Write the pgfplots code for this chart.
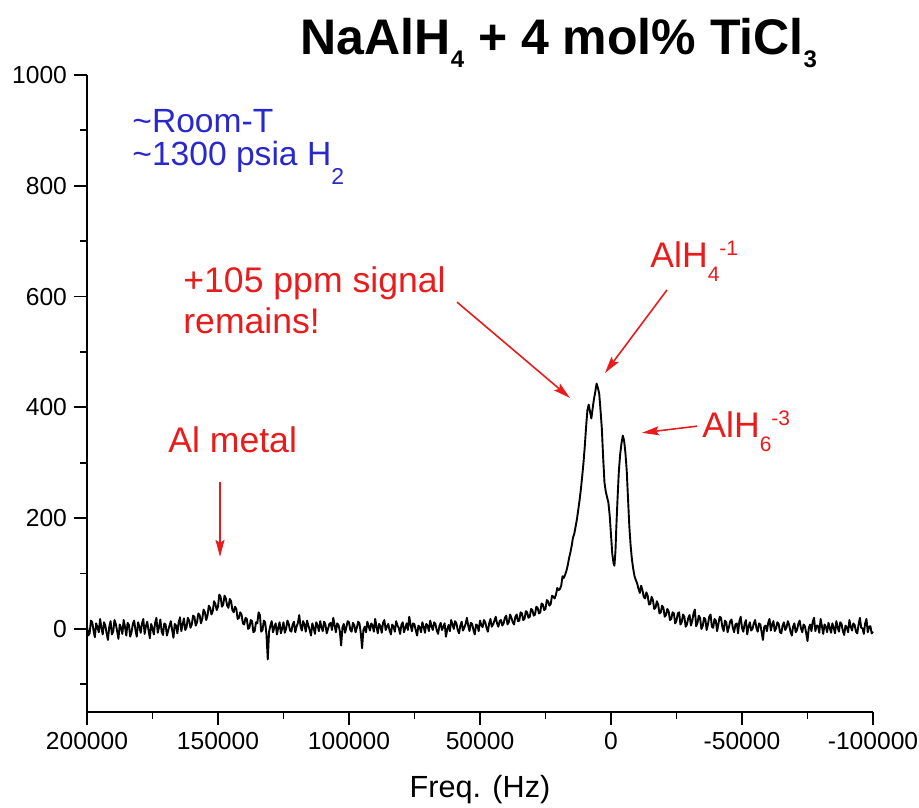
\documentclass[border=0pt]{standalone}
\usepackage{fontspec}
\setmainfont{Liberation Sans}
\usepackage{pgfplots}
\pgfplotsset{compat=1.18}
\usetikzlibrary{arrows.meta}
\definecolor{annred}{RGB}{232,28,28}
\definecolor{annblue}{RGB}{40,40,205}
\newcommand{\lo}[3]{\raisebox{-#2}{\fontsize{#1}{#1}\selectfont #3}}
\newcommand{\hi}[3]{\raisebox{#2}{\fontsize{#1}{#1}\selectfont #3}}
\begin{document}
\begin{tikzpicture}
\path[use as bounding box] (-43.5pt,-47.5pt) rectangle (416pt,356pt);
\begin{axis}[
  at={(0,0)}, anchor=south west, scale only axis,
  width=393pt, height=318.5pt,
  xmin=-100000, xmax=200000, x dir=reverse,
  ymin=-150, ymax=1000,
  axis x line*=bottom, axis y line*=left,
  axis line style={line width=1pt, black},
  xtick={-100000,-50000,0,50000,100000,150000,200000},
  minor xtick={-75000,-25000,25000,75000,125000,175000},
  ytick={0,200,400,600,800,1000},
  minor ytick={-100,100,300,500,700,900},
  tick align=outside,
  major tick length=6.5pt, minor tick length=3.5pt,
  every tick/.style={black, line width=0.9pt},
  scaled x ticks=false, scaled y ticks=false,
  /pgf/number format/fixed,
  /pgf/number format/precision=0,
  /pgf/number format/assume math mode=true,
  /pgf/number format/set thousands separator={},
  ticklabel style={font=\fontsize{12.3}{14}\selectfont},
  xlabel={Freq. (Hz)},
  xlabel style={font=\fontsize{15.3}{18}\selectfont, at={(axis description cs:0.5,0)}, anchor=center, yshift=-39pt},
  clip=false,
]
\addplot[black, line width=0.95pt, line join=round] coordinates {
(200000,5) (199500,-12) (199000,-8) (198500,15) (198000,12) (197500,-3) (197000,-15) (196500,10) (196000,3) (195500,-6)
(195000,18) (194500,2) (194000,-10) (193500,12) (193000,6) (192500,-8) (192000,-20) (191500,4) (191000,14) (190500,-10)
(190000,-5) (189500,16) (189000,9) (188500,-4) (188000,-18) (187500,8) (187000,2) (186500,-9) (186000,16) (185500,4)
(185000,-12) (184500,11) (184000,7) (183500,-14) (183000,-6) (182500,9) (182000,15) (181500,-2) (181000,-14) (180500,12)
(180000,4) (179500,-7) (179000,10) (178500,18) (178000,-9) (177500,5) (177000,13) (176500,-3) (176000,-17) (175500,9)
(175000,1) (174500,-10) (174000,11) (173500,20) (173000,-7) (172500,3) (172000,17) (171500,-5) (171000,-11) (170500,10)
(170000,8) (169500,-12) (169000,-3) (168500,6) (168000,14) (167500,-2) (167000,-16) (166500,9) (166000,6) (165500,-8)
(165000,12) (164500,21) (164000,-4) (163500,8) (163000,19) (162500,-2) (162000,3) (161500,20) (161000,15) (160500,2)
(160000,8) (159500,24) (159000,22) (158500,6) (158000,12) (157500,28) (157000,25) (156500,10) (156000,18) (155500,35)
(155000,30) (154500,16) (154000,24) (153500,42) (153000,38) (152500,26) (152000,32) (151500,50) (151000,45) (150500,34)
(150000,40) (149500,62) (149000,58) (148500,40) (148000,44) (147500,60) (147000,55) (146500,42) (146000,38) (145500,54)
(145000,50) (144500,34) (144000,30) (143500,40) (143000,36) (142500,18) (142000,20) (141500,30) (141000,26) (140500,10)
(140000,8) (139500,20) (139000,18) (138500,0) (138000,2) (137500,16) (137000,14) (136500,-6) (136000,-4) (135500,12)
(135000,10) (134500,30) (134000,25) (133500,-5) (133000,-2) (132500,15) (132000,12) (131500,-10) (131000,-55) (130500,-5)
(130000,6) (129500,14) (129000,-6) (128500,3) (128000,10) (127500,-10) (127000,2) (126500,12) (126000,-8) (125500,1)
(125000,12) (124500,-7) (124000,0) (123500,15) (123000,9) (122500,-3) (122000,-5) (121500,8) (121000,13) (120500,-6)
(120000,4) (119500,11) (119000,25) (118500,5) (118000,-3) (117500,14) (117000,8) (116500,-5) (116000,15) (115500,6)
(115000,-2) (114500,-12) (114000,10) (113500,2) (113000,-9) (112500,12) (112000,6) (111500,-4) (111000,14) (110500,3)
(110000,-4) (109500,13) (109000,8) (108500,-8) (108000,0) (107500,9) (107000,11) (106500,-2) (106000,20) (105500,7)
(105000,-6) (104500,10) (104000,7) (103500,-4) (103000,-30) (102500,2) (102000,9) (101500,-7) (101000,3) (100500,14)
(100000,12) (99500,-2) (99000,-5) (98500,11) (98000,7) (97500,-6) (97000,2) (96500,13) (96000,10) (95500,-8)
(95000,-35) (94500,-2) (94000,4) (93500,-6) (93000,13) (92500,5) (92000,-3) (91500,10) (91000,6) (90500,-5)
(90000,18) (89500,4) (89000,-8) (88500,9) (88000,5) (87500,-7) (87000,11) (86500,16) (86000,-2) (85500,4)
(85000,9) (84500,-3) (84000,-10) (83500,8) (83000,4) (82500,-5) (82000,14) (81500,6) (81000,2) (80500,-9)
(80000,7) (79500,12) (79000,-6) (78500,2) (78000,10) (77500,-2) (77000,22) (76500,8) (76000,-4) (75500,10)
(75000,8) (74500,-3) (74000,-12) (73500,6) (73000,3) (72500,-6) (72000,12) (71500,4) (71000,-7) (70500,9)
(70000,6) (69500,-4) (69000,15) (68500,5) (68000,-2) (67500,12) (67000,9) (66500,-3) (66000,-9) (65500,5)
(65000,11) (64500,-2) (64000,4) (63500,10) (63000,-14) (62500,-1) (62000,7) (61500,-4) (61000,16) (60500,8)
(60000,0) (59500,14) (59000,10) (58500,-2) (58000,-8) (57500,6) (57000,13) (56500,-3) (56000,2) (55500,9)
(55000,20) (54500,6) (54000,-4) (53500,11) (53000,9) (52500,-2) (52000,-10) (51500,8) (51000,6) (50500,-4)
(50000,15) (49500,7) (49000,3) (48500,16) (48000,12) (47500,2) (47000,-5) (46500,10) (46000,18) (45500,4)
(45000,8) (44500,15) (44000,22) (43500,10) (43000,4) (42500,14) (42000,16) (41500,6) (41000,10) (40500,20)
(40000,24) (39500,8) (39000,12) (38500,26) (38000,20) (37500,12) (37000,8) (36500,22) (36000,26) (35500,14)
(35000,15) (34500,30) (34000,28) (33500,16) (33000,18) (32500,32) (32000,30) (31500,20) (31000,22) (30500,36)
(30000,34) (29500,24) (29000,26) (28500,40) (28000,38) (27500,28) (27000,30) (26500,46) (26000,44) (25500,34)
(25000,36) (24500,52) (24000,50) (23500,42) (23000,45) (22500,60) (22000,58) (21500,55) (21000,62) (20500,74)
(20000,70) (19500,72) (19000,78) (18500,95) (18000,92) (17500,98) (17000,105) (16500,115) (16000,128) (15500,138)
(15000,150) (14500,165) (14000,172) (13500,185) (13000,198) (12500,215) (12000,232) (11500,252) (11000,275) (10500,300)
(10000,330) (9500,365) (9000,395) (8500,405) (8000,392) (7500,380) (7000,398) (6500,415) (6000,428) (5500,443)
(5000,435) (4500,425) (4000,395) (3500,362) (3000,310) (2500,265) (2000,248) (1500,238) (1000,228) (500,205)
(0,170) (-500,135) (-1000,118) (-1300,114) (-1700,140) (-2000,180) (-2500,235) (-3000,285) (-3500,315) (-4000,335)
(-4500,349) (-5000,340) (-5500,318) (-6000,286) (-6500,235) (-7000,185) (-7500,150) (-8000,125) (-8500,108) (-9000,95)
(-9500,88) (-10000,82) (-10500,72) (-11000,65) (-11500,78) (-12000,70) (-12500,58) (-13000,55) (-13500,66) (-14000,60)
(-14500,44) (-15000,45) (-15500,58) (-16000,52) (-16500,36) (-17000,38) (-17500,50) (-18000,44) (-18500,28) (-19000,30)
(-19500,42) (-20000,38) (-20500,22) (-21000,25) (-21500,36) (-22000,32) (-22500,16) (-23000,18) (-23500,30) (-24000,28)
(-24500,10) (-25000,15) (-25500,28) (-26000,30) (-26500,8) (-27000,12) (-27500,26) (-28000,22) (-28500,4) (-29000,8)
(-29500,20) (-30000,25) (-30500,6) (-31000,14) (-31500,28) (-32000,35) (-32500,5) (-33000,10) (-33500,24) (-34000,20)
(-34500,0) (-35000,5) (-35500,20) (-36000,18) (-36500,-2) (-37000,8) (-37500,22) (-38000,26) (-38500,4) (-39000,2)
(-39500,18) (-40000,15) (-40500,-4) (-41000,9) (-41500,22) (-42000,20) (-42500,3) (-43000,-4) (-43500,15) (-44000,12)
(-44500,-6) (-45000,3) (-45500,14) (-46000,17) (-46500,2) (-47000,-6) (-47500,8) (-48000,10) (-48500,-8) (-49000,14)
(-49500,22) (-50000,2) (-50500,-5) (-51000,9) (-51500,16) (-52000,-10) (-52500,4) (-53000,12) (-53500,-3) (-54000,0)
(-54500,10) (-55000,16) (-55500,2) (-56000,-5) (-56500,10) (-57000,8) (-57500,-6) (-58000,-20) (-58500,4) (-59000,6)
(-59500,-4) (-60000,11) (-60500,18) (-61000,-3) (-61500,8) (-62000,14) (-62500,-4) (-63000,1) (-63500,12) (-64000,9)
(-64500,-6) (-65000,-8) (-65500,6) (-66000,12) (-66500,-2) (-67000,3) (-67500,14) (-68000,7) (-68500,-5) (-69000,-12)
(-69500,4) (-70000,10) (-70500,-6) (-71000,-2) (-71500,9) (-72000,15) (-72500,1) (-73000,-6) (-73500,8) (-74000,5)
(-74500,-8) (-75000,-22) (-75500,2) (-76000,8) (-76500,-4) (-77000,13) (-77500,20) (-78000,-4) (-78500,6) (-79000,6)
(-79500,-7) (-80000,18) (-80500,5) (-81000,-9) (-81500,8) (-82000,4) (-82500,-6) (-83000,11) (-83500,2) (-84000,-7)
(-84500,10) (-85000,2) (-85500,-8) (-86000,14) (-86500,3) (-87000,-5) (-87500,12) (-88000,9) (-88500,-4) (-89000,-11)
(-89500,6) (-90000,3) (-90500,-6) (-91000,16) (-91500,4) (-92000,-3) (-92500,10) (-93000,7) (-93500,-5) (-94000,-8)
(-94500,8) (-95000,20) (-95500,2) (-96000,1) (-96500,-9) (-97000,10) (-97500,18) (-98000,-6) (-98500,4) (-99000,5)
(-99500,-8) (-100000,-5)
};
% title
\node[anchor=base, font=\fontsize{25}{30}\selectfont\bfseries] at (axis description cs:0.6005,1) [yshift=10pt]
  {NaAlH\lo{12}{6.5pt}{4} + 4 mol\% TiCl\lo{12}{6.5pt}{3}};
% blue notes
\node[anchor=base west, inner sep=0pt, text=annblue, font=\fontsize{16.8}{19}\selectfont] at (axis cs:182824,897) {\textasciitilde Room-T};
\node[anchor=base west, inner sep=0pt, text=annblue, font=\fontsize{16.8}{19}\selectfont] at (axis cs:182824,836) {\textasciitilde 1300 psia H\lo{11.5}{9.5pt}{2}};
% red notes
\node[anchor=base west, inner sep=0pt, text=annred, font=\fontsize{17.8}{20}\selectfont] at (axis cs:163359,608) {+105 ppm signal};
\node[anchor=base west, inner sep=0pt, text=annred, font=\fontsize{17.8}{20}\selectfont] at (axis cs:163359,534) {remains!};
\node[anchor=base west, inner sep=0pt, text=annred, font=\fontsize{17.8}{20}\selectfont] at (axis cs:169084,318) {Al metal};
\node[anchor=base west, inner sep=0pt, text=annred, font=\fontsize{17.8}{20}\selectfont] at (axis cs:-14886,652) {AlH\lo{10.5}{7pt}{4}\hi{10.5}{6pt}{-1}};
\node[anchor=base west, inner sep=0pt, text=annred, font=\fontsize{17.8}{20}\selectfont] at (axis cs:-34733,345) {AlH\lo{10.5}{7pt}{6}\hi{10.5}{6pt}{-3}};
% arrows
\draw[annred, line width=0.8pt, -{Stealth[length=8.5pt,width=4.5pt,inset=1.5pt]}] (axis cs:149237,265) -- (axis cs:149237,130);
\draw[annred, line width=0.8pt, -{Stealth[length=8.5pt,width=4.5pt,inset=1.5pt]}] (axis cs:58778,590) -- (axis cs:15649,417);
\draw[annred, line width=0.8pt, -{Stealth[length=8.5pt,width=4.5pt,inset=1.5pt]}] (axis cs:-21374,612) -- (axis cs:2290,462);
\draw[annred, line width=0.8pt, -{Stealth[length=8.5pt,width=4.5pt,inset=1.5pt]}] (axis cs:-32825,366) -- (axis cs:-11832,354);
\end{axis}
\end{tikzpicture}
\end{document}
